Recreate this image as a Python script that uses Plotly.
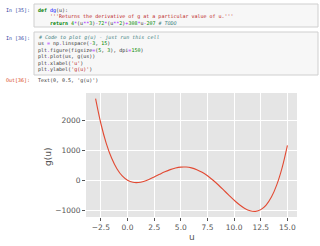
import plotly.graph_objects as go

# ---- data ----
u_vals = [-3.0, -2.5, -2.0, -1.5, -1.0, -0.5, 0.0, 0.5, 1.0, 1.5, 2.0, 2.5, 3.0,
          3.5, 4.0, 4.5, 5.0, 5.5, 6.0, 6.5, 7.0, 7.5, 8.0, 8.5, 9.0, 9.5, 10.0,
          10.5, 11.0, 11.5, 12.0, 12.5, 13.0, 13.5, 14.0, 14.5, 15.0]
g_vals = [2736, 1894, 1238, 743, 386, 145, 0, -68, -76, -40, 26, 109, 198,
          283, 356, 410, 440, 442, 414, 355, 266, 149, 8, -152, -324, -500, -670,
          -823, -946, -1025, -1044, -986, -832, -562, -154, 415, 1170]
x_ticks = [-2.5, 0.0, 2.5, 5.0, 7.5, 10.0, 12.5, 15.0]
x_tick_labels = ["−2.5", "0.0", "2.5", "5.0", "7.5", "10.0", "12.5", "15.0"]
y_ticks = [-1000, 0, 1000, 2000]
y_tick_labels = ["−1000", "0", "1000", "2000"]
x_label = "u"
y_label = "g(u)"

W, H = 320, 246
def px(x):
    return x / W
def py(y):
    return 1 - y / H

KW = "color:#008000"
FN = "color:#0000FF"
ST = "color:#BA2121"
CM = "color:#408080"
NUM = "color:#008800"
OP = "color:#AA22FF"

code_lines = [
    (36, 10.3, f'<b><span style="{KW}">def</span></b> <span style="{FN}">dg</span>(u):'),
    (48, 16.3, f'<span style="{ST}">\'\'\'Returns the derivative of g at a particular value of u.\'\'\'</span>'),
    (48, 22.7, f'<b><span style="{KW}">return</span></b> <span style="{NUM}">4</span><span style="{OP}">*</span>(u<span style="{OP}">**</span><span style="{NUM}">3</span>)<span style="{OP}">-</span><span style="{NUM}">72</span><span style="{OP}">*</span>(u<span style="{OP}">**</span><span style="{NUM}">2</span>)<span style="{OP}">+</span><span style="{NUM}">308</span><span style="{OP}">*</span>u<span style="{OP}">-</span><span style="{NUM}">207</span> <i><span style="{CM}"># TODO</span></i>'),
    (36, 37.8, f'<i><span style="{CM}"># Code to plot g(u) - just run this cell</span></i>'),
    (36, 44.0, f'us <span style="{OP}">=</span> np<span style="{OP}">.</span>linspace(<span style="{OP}">-</span><span style="{NUM}">3</span>, <span style="{NUM}">15</span>)'),
    (36, 50.5, f'plt<span style="{OP}">.</span>figure(figsize<span style="{OP}">=</span>(<span style="{NUM}">5</span>, <span style="{NUM}">3</span>), dpi<span style="{OP}">=</span><span style="{NUM}">150</span>)'),
    (36, 56.8, f'plt<span style="{OP}">.</span>plot(us, g(us))'),
    (36, 63.0, f'plt<span style="{OP}">.</span>xlabel(<span style="{ST}">\'u\'</span>)'),
    (36, 69.2, f'plt<span style="{OP}">.</span>ylabel(<span style="{ST}">\'g(u)\'</span>)'),
    (36, 80.3, "Text(0, 0.5, 'g(u)')"),
]
prompts = [
    (10.3, '<span style="color:#303F9F">In [35]:</span>'),
    (37.8, '<span style="color:#303F9F">In [36]:</span>'),
    (80.3, '<span style="color:#D84315">Out[36]:</span>'),
]

fig = go.Figure()
fig.add_trace(go.Scatter(
    x=u_vals, y=g_vals, mode="lines",
    line=dict(color="#E24A33", width=1.1, shape="spline"),
    hoverinfo="skip", showlegend=False,
))

annotations = []
for x, y, t in code_lines:
    annotations.append(dict(
        x=px(x), y=py(y), xref="paper", yref="paper", text=t,
        xanchor="left", yanchor="middle", showarrow=False,
        font=dict(family="DejaVu Sans Mono", size=5, color="#333333"),
    ))
for y, t in prompts:
    annotations.append(dict(
        x=px(32), y=py(y), xref="paper", yref="paper", text=t,
        xanchor="right", yanchor="middle", showarrow=False,
        font=dict(family="DejaVu Sans Mono", size=5),
    ))
annotations.append(dict(
    x=px(192), y=py(237), xref="paper", yref="paper", text=x_label,
    xanchor="center", yanchor="middle", showarrow=False,
    font=dict(family="DejaVu Sans", size=9, color="#555555"),
))
annotations.append(dict(
    x=px(48), y=py(157), xref="paper", yref="paper", text=y_label,
    xanchor="center", yanchor="middle", showarrow=False, textangle=-90,
    font=dict(family="DejaVu Sans", size=9, color="#555555"),
))

shapes = [
    dict(type="rect", xref="paper", yref="paper", x0=px(34), x1=px(318),
         y0=py(4), y1=py(27), fillcolor="#F7F7F7",
         line=dict(color="#CFCFCF", width=1), layer="below"),
    dict(type="rect", xref="paper", yref="paper", x0=px(34), x1=px(318),
         y0=py(32), y1=py(75), fillcolor="#F7F7F7",
         line=dict(color="#CFCFCF", width=1), layer="below"),
]

axis_common = dict(
    showgrid=True, gridcolor="white", gridwidth=1,
    zeroline=False, showline=False,
    ticks="outside", ticklen=3, tickwidth=0.8, tickcolor="#555555",
    tickfont=dict(family="DejaVu Sans", size=7.5, color="#555555"),
    automargin=False, fixedrange=True,
)

fig.update_layout(
    width=W, height=H,
    margin=dict(l=0, r=0, t=0, b=0, pad=0),
    paper_bgcolor="white", plot_bgcolor="#E5E5E5",
    xaxis=dict(domain=[px(86), px(297)], range=[-3.9, 15.9],
               tickvals=x_ticks, ticktext=x_tick_labels, **axis_common),
    yaxis=dict(domain=[py(217), py(93)], range=[-1233, 2925],
               tickvals=y_ticks, ticktext=y_tick_labels, **axis_common),
    annotations=annotations, shapes=shapes,
    showlegend=False,
)

fig.write_html("out.html")
